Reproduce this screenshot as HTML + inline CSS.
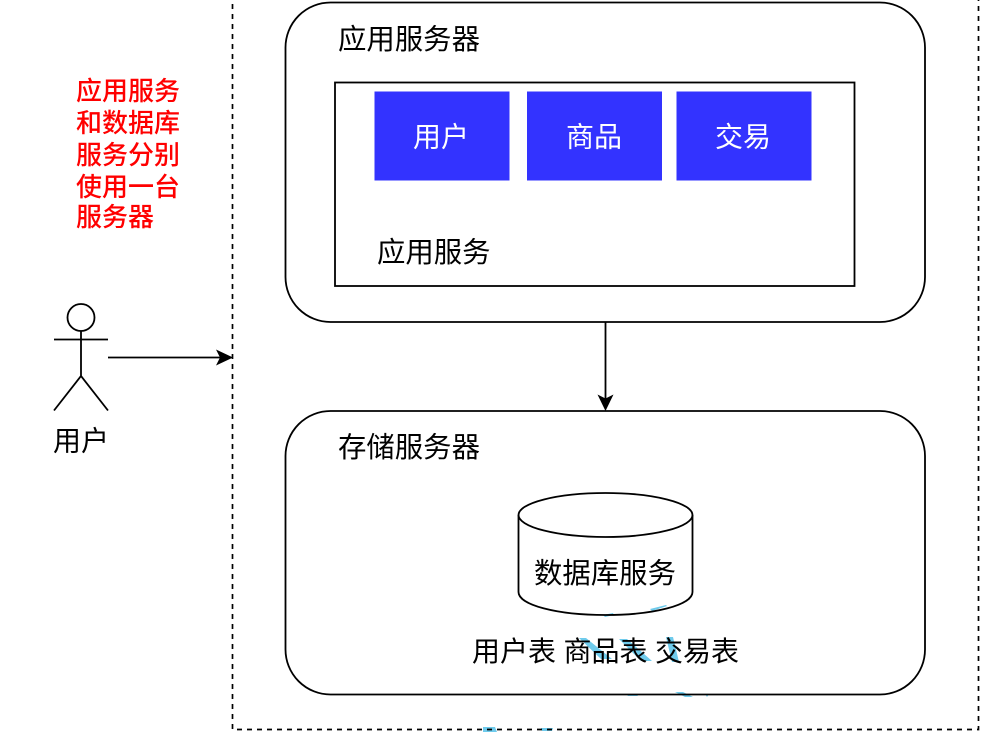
<!DOCTYPE html>
<html><head><meta charset="utf-8">
<style>
html,body{margin:0;padding:0;background:#fff;width:994px;height:735px;overflow:hidden}
svg{display:block}
text{font-family:"Liberation Sans","Noto Sans CJK SC",sans-serif;fill:#000}
</style></head>
<body>
<svg width="994" height="735" viewBox="0 0 994 735" xmlns="http://www.w3.org/2000/svg">
<!-- faint teal artefacts -->
<g fill="#6fcbec" stroke="none">
<path d="M603 615l10-2 1 2-9 2z M650 609l16-4 1 1-15 5z"/>
<path d="M579 638l7 0 26 21-11 0z M619 639l8 0 25 22-11 0z M666 637l7 0 6 25-7 0z"/>
<path d="M626 694l10 0 2 2-10 0z M675 692l8 0 10 5-8 0z M705 694l4 0-2 3z"/>
<path d="M483 727l12 0 2 5-14 0z M541 728l12 0-1 3-10 0z"/>
</g>
<!-- dashed outer frame -->
<path d="M232.5 -6V729.5H978.5V-6" fill="none" stroke="#000" stroke-width="1.7" stroke-dasharray="5 5"/>
<!-- app server -->
<rect x="285.5" y="2.5" width="639.5" height="319.5" rx="45" fill="none" stroke="#000" stroke-width="1.8"/>
<rect x="335" y="82.5" width="519.5" height="203.5" fill="none" stroke="#000" stroke-width="1.8"/>
<rect x="374.5" y="91.5" width="135" height="89" fill="#3333ff"/>
<rect x="527" y="91.5" width="135" height="89" fill="#3333ff"/>
<rect x="676.5" y="91.5" width="135" height="89" fill="#3333ff"/>
<text x="338" y="49" font-size="28.4">应用服务器</text>
<text x="413" y="146.5" font-size="28" style="fill:#fff">用户</text>
<text x="566" y="146.5" font-size="28" style="fill:#fff">商品</text>
<text x="715" y="146.5" font-size="28" style="fill:#fff">交易</text>
<text x="377" y="262" font-size="28.4">应用服务</text>
<!-- storage server -->
<rect x="285.5" y="411" width="639.5" height="283.5" rx="45" fill="none" stroke="#000" stroke-width="1.8"/>
<text x="338" y="457" font-size="28.4">存储服务器</text>
<!-- cylinder -->
<path d="M518.5 515V592C518.5 605 557 615 605.5 615S692.5 605 692.5 592V515" fill="none" stroke="#000" stroke-width="1.8"/>
<ellipse cx="605.5" cy="515" rx="87" ry="22" fill="none" stroke="#000" stroke-width="1.8"/>
<text x="534" y="583" font-size="28.4">数据库服务</text>
<text x="472" y="661" font-size="28">用户表</text>
<text x="563.5" y="661" font-size="28">商品表</text>
<text x="655" y="661" font-size="28">交易表</text>
<!-- arrows -->
<path d="M605.5 322V400" fill="none" stroke="#000" stroke-width="1.8"/>
<path d="M605.5 411L597.5 394.5L605.5 398.5L613.5 394.5Z" fill="#000"/>
<path d="M108 357.5H222" fill="none" stroke="#000" stroke-width="1.8"/>
<path d="M233 357.5L216 349.5L220 357.5L216 365.5Z" fill="#000"/>
<!-- actor -->
<g fill="none" stroke="#000" stroke-width="1.8">
<circle cx="81" cy="317.5" r="13.5"/>
<path d="M81 331V376M54 339.5H108M54 410.5L81 376L108 410.5"/>
</g>
<text x="53" y="450.5" font-size="28">用户</text>
<!-- red note -->
<g font-size="26">
<text x="76" y="100" style="fill:#ff0000;font-weight:500">应用服务</text>
<text x="76" y="132" style="fill:#ff0000;font-weight:500">和数据库</text>
<text x="76" y="164" style="fill:#ff0000;font-weight:500">服务分别</text>
<text x="76" y="196" style="fill:#ff0000;font-weight:500">使用一台</text>
<text x="76" y="226" style="fill:#ff0000;font-weight:500">服务器</text>
</g>
</svg>
</body></html>
